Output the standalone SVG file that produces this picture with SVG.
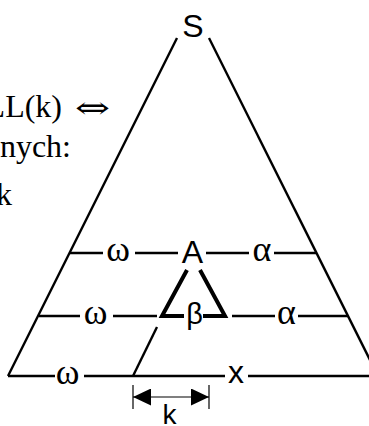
<svg xmlns="http://www.w3.org/2000/svg" width="369" height="426" viewBox="0 0 369 426">
<style>
.ln{stroke:#000;stroke-width:2.4;fill:none;stroke-linecap:butt}
.thick{stroke:#000;stroke-width:4;fill:none;stroke-linejoin:miter}
.thin{stroke:#000;stroke-width:1.2;fill:none}
.sans{font-family:"Liberation Sans",Arial,sans-serif;fill:#000;text-anchor:middle}
.greek{font-family:"Liberation Serif","Times New Roman",serif;fill:#000;text-anchor:middle;font-size:36px}
.serif{font-family:"Liberation Serif","Times New Roman",serif;fill:#000;font-size:32px}
</style>
<defs>
<marker id="ah" viewBox="0 0 18 17" refX="18" refY="8.5" markerWidth="18" markerHeight="17" markerUnits="userSpaceOnUse" orient="auto-start-reverse">
<path d="M0,0 L18,8.5 L0,17 Z" fill="#000"/>
</marker>
</defs>
<rect width="369" height="426" fill="#fff"/>
<g id="left-text">
<text class="serif" x="62" y="117" text-anchor="end">LL(k)</text>
<text x="75" y="118" font-family="DejaVu Serif,serif" font-size="30" textLength="35" lengthAdjust="spacingAndGlyphs">⇔</text>
<text class="serif" x="71" y="157" text-anchor="end">nych:</text>
<text class="serif" x="12" y="205" text-anchor="end">k</text>
</g>
<g id="connectors">
<line class="ln" x1="177" y1="38" x2="8" y2="376"/>
<line class="ln" x1="209" y1="38" x2="378" y2="376"/>
<line class="ln" x1="70" y1="253" x2="103" y2="253"/>
<line class="ln" x1="135" y1="253" x2="178" y2="253"/>
<line class="ln" x1="206" y1="253" x2="249" y2="253"/>
<line class="ln" x1="274" y1="253" x2="316" y2="253"/>
<line class="ln" x1="39" y1="316" x2="80" y2="316"/>
<line class="ln" x1="113" y1="316" x2="157" y2="316"/>
<line class="ln" x1="232" y1="316" x2="275" y2="316"/>
<line class="ln" x1="298" y1="316" x2="348" y2="316"/>
<line class="ln" x1="8" y1="376" x2="55" y2="376"/>
<line class="ln" x1="84" y1="376" x2="225" y2="376"/>
<line class="ln" x1="248" y1="376" x2="369" y2="376"/>
<line class="ln" x1="157" y1="327" x2="133" y2="376"/>
<polyline class="thick" points="187,270 162,316 184,316"/>
<polyline class="thick" points="200,270 225,316 203,316"/>
<line class="thin" x1="133" y1="385" x2="133" y2="409"/>
<line class="thin" x1="209" y1="385" x2="209" y2="409"/>
<line class="thin" x1="133" y1="397" x2="209" y2="397" marker-start="url(#ah)" marker-end="url(#ah)"/>
</g>
<g id="node-S"><text class="sans" x="193" y="37" font-size="32">S</text></g>
<g id="node-A"><text class="sans" x="192.5" y="263" font-size="32">A</text></g>
<g id="node-beta"><text class="sans" x="194.5" y="324" font-size="29">β</text></g>
<g id="node-x"><text class="sans" x="236" y="383" font-size="32">x</text></g>
<g id="node-k"><text class="sans" x="169.5" y="424" font-size="28">k</text></g>
<g id="labels">
<text class="greek" x="118" y="261">ω</text>
<text class="greek" x="95.5" y="324">ω</text>
<text class="greek" x="67.5" y="384">ω</text>
<text class="greek" x="262" y="261">α</text>
<text class="greek" x="286.5" y="324">α</text>
</g>
</svg>
